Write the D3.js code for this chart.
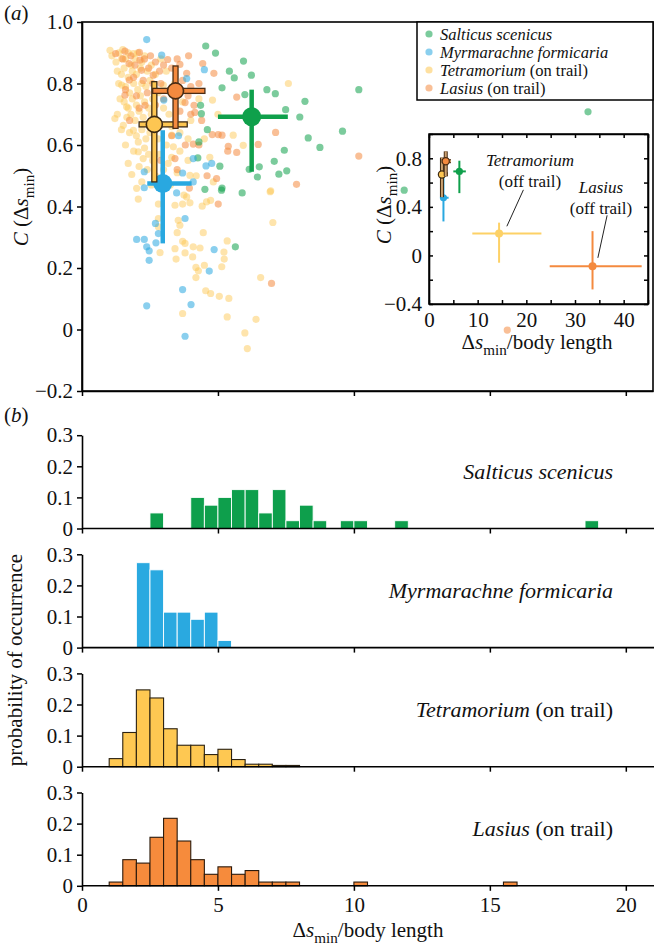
<!DOCTYPE html>
<html><head><meta charset="utf-8">
<script src="https://cdn.jsdelivr.net/npm/d3@7/dist/d3.min.js"></script>
<style>body{margin:0;background:#fff}svg{display:block}text{font-family:"Liberation Serif","Times New Roman",serif;fill:#111}</style>
</head><body><svg id="c" width="654" height="950"></svg>
<script>
// ---------- DATA ----------
const species = ["Salticus scenicus", "Myrmarachne formicaria", "Tetramorium", "Lasius"];
const legendSuffix = ["", "", " (on trail)", " (on trail)"];
const speciesColor = ["#0fa04b", "#29a8e0", "#fdc652", "#f48a3f"];
const speciesEdge = [null, null, "#3d2a14", "#4a2c14"];

// scatter points [Δs/body length, C]
const salticusPts = [[4.55,0.922],[4.91,0.899],[5.94,0.873],[5.42,0.840],[5.60,0.818],[6.23,0.827],[5.15,0.786],[5.99,0.764],[6.80,0.780],[7.11,0.767],[8.20,0.742],[7.49,0.715],[8.01,0.691],[8.32,0.623],[8.75,0.592],[7.44,0.583],[7.07,0.547],[7.53,0.516],[7.24,0.505],[6.52,0.529],[6.15,0.521],[6.45,0.496],[5.89,0.444],[5.15,0.460],[4.52,0.456],[4.39,0.702],[4.61,0.650],[4.26,0.558],[4.36,0.729],[5.07,0.531],[5.13,0.453],[5.64,0.269],[10.18,0.780],[9.58,0.645],[18.61,0.708],[11.85,0.453],[4.30,0.610]];
const myrmarachnePts = [[2.38,0.943],[2.93,0.892],[4.50,0.845],[3.85,0.816],[3.01,0.746],[4.77,0.540],[4.56,0.532],[4.09,0.556],[3.70,0.509],[2.29,0.513],[2.29,0.461],[3.48,0.444],[4.09,0.480],[2.70,0.345],[3.79,0.361],[2.01,0.293],[2.29,0.293],[2.38,0.269],[2.47,0.256],[2.47,0.225],[2.72,0.282],[2.81,0.312],[4.86,0.260],[4.68,0.190],[3.70,0.130],[4.01,0.081],[2.38,0.077],[3.79,-0.022],[3.55,0.63]];
const tetramoriumPts = [[1.03,0.908],[1.46,0.881],[1.89,0.897],[1.46,0.795],[1.64,0.724],[1.21,0.686],[1.52,0.664],[1.89,0.648],[2.07,0.610],[2.07,0.578],[2.25,0.556],[1.83,0.504],[2.01,0.459],[3.30,0.632],[3.17,0.540],[3.36,0.594],[3.97,0.501],[4.83,0.480],[5.93,0.599],[5.56,0.632],[7.59,0.800],[6.94,0.451],[4.80,0.746],[2.99,0.795],
[2.07,0.424],[2.81,0.408],[3.42,0.404],[3.70,0.408],[3.85,0.431],[3.97,0.412],[3.75,0.437],[4.42,0.401],[4.58,0.415],[4.73,0.420],[6.92,0.448],[7.02,0.348],[3.54,0.355],[3.60,0.339],[2.81,0.361],[3.50,0.315],[4.46,0.315],[2.81,0.334],[3.70,0.287],[3.79,0.280],[5.34,0.288],[2.87,0.250],[3.42,0.263],[3.79,0.249],[4.09,0.269],[4.34,0.265],[5.22,0.252],[4.07,0.236],[3.46,0.229],[5.23,0.229],[5.14,0.204],[4.50,0.209],[4.19,0.202],[4.28,0.191],[4.19,0.169],[6.57,0.169],[4.55,0.126],[4.73,0.117],[5.05,0.108],[5.40,0.101],[3.70,0.052],[5.34,0.041],[6.40,0.033],[5.99,-0.011],[6.08,-0.062],
[1.10,0.89],[1.25,0.87],[1.35,0.90],[1.50,0.91],[1.60,0.88],[1.70,0.90],[1.80,0.86],[1.95,0.88],[2.05,0.90],[2.20,0.87],[2.30,0.89],[1.30,0.84],[1.45,0.83],[1.55,0.85],[1.70,0.82],[1.85,0.84],[2.00,0.83],[2.15,0.85],[2.40,0.84],[2.55,0.86],[1.35,0.80],[1.60,0.79],[1.75,0.77],[1.90,0.80],[2.05,0.78],[2.20,0.80],[2.35,0.79],[2.50,0.81],[2.70,0.83],[1.40,0.75],[1.55,0.74],[1.70,0.72],[1.85,0.75],[2.00,0.73],[2.15,0.76],[2.30,0.74],[2.45,0.72],[2.60,0.75],[2.80,0.77],[1.30,0.70],[1.65,0.69],[1.80,0.70],[1.95,0.68],[2.10,0.71],[2.25,0.69],[2.40,0.67],[2.55,0.70],[3.00,0.72],[3.20,0.70],[1.45,0.65],[1.75,0.64],[2.00,0.63],[2.20,0.65],[2.35,0.62],[2.50,0.64],[2.80,0.62],[3.10,0.60],[1.60,0.60],[1.90,0.58],[2.30,0.59],[2.45,0.57],[2.60,0.55],[2.85,0.57],[3.30,0.56],[3.60,0.58],[1.70,0.54],[2.10,0.53],[2.40,0.52],[2.70,0.50],[3.00,0.52],[3.50,0.51],[3.90,0.55],[2.20,0.48],[2.55,0.47],[2.90,0.46],[3.25,0.47],[4.20,0.50],[4.50,0.62],[4.00,0.68],[3.70,0.74],[3.40,0.80],[3.10,0.84],[2.90,0.88],[4.30,0.75],[5.00,0.70],[4.70,0.56],[3.60,0.64],[3.30,0.66],[3.90,0.62]];
const lasiusPts = [[1.58,0.905],[2.11,0.901],[2.52,0.890],[3.15,0.878],[3.92,0.890],[1.73,0.865],[2.13,0.876],[2.19,0.843],[1.74,0.811],[1.58,0.762],[2.62,0.827],[3.60,0.862],[3.85,0.833],[3.79,0.738],[4.15,0.706],[4.12,0.729],[5.69,0.756],[4.85,0.833],[4.44,0.865],[5.15,0.632],[5.01,0.634],[5.69,0.576],[5.36,0.580],[6.48,0.602],[7.12,0.641],[4.95,0.491],[7.89,0.472],[3.42,0.556],[4.09,0.603],[2.32,0.729],[4.79,0.634],[5.38,0.596],[1.24,0.897],[5.01,0.408],[6.97,0.150],[10.18,0.564],[15.64,-0.002],
[1.50,0.88],[1.80,0.89],[1.95,0.86],[2.30,0.88],[2.45,0.85],[2.70,0.87],[2.85,0.84],[3.00,0.86],[3.30,0.85],[3.50,0.88],[1.90,0.82],[2.25,0.81],[2.60,0.80],[2.90,0.80],[3.70,0.81],[4.00,0.79],[1.60,0.78],[2.00,0.76],[2.40,0.77],[3.90,0.76],[4.30,0.80],[2.10,0.72],[2.70,0.73],[3.00,0.75],[3.60,0.71],[4.00,0.70],[4.40,0.68],[1.75,0.68],[2.50,0.66],[3.30,0.63],[3.80,0.60],[4.30,0.60],[2.90,0.55],[3.50,0.52],[4.60,0.50],[3.95,0.46]];
const scatterSets = [salticusPts, myrmarachnePts, tetramoriumPts, lasiusPts];

// on-trail means with error ranges
const meanX = [6.24, 2.97, 2.66, 3.44];
const meanY = [0.692, 0.475, 0.667, 0.776];
const errX = [[5.0,7.57],[2.4,4.03],[2.1,3.87],[2.6,4.52]];
const errY = [[0.513,0.78],[0.28,0.648],[0.48,0.806],[0.654,0.857]];
// off-trail means (inset)
const offNames = ["Tetramorium", "Lasius"];
const offColor = ["#fdd166", "#f48a3f"];
const offX = [14.4, 33.6];
const offY = [0.18, -0.09];
const offErrX = [[8.9,23.1],[24.8,43.7]];
const offErrY = [[-0.06,0.27],[-0.28,0.2]];

// histograms: bin start (width 0.5) and probability
const histBins = [
  [[2.5,0.05],[4.0,0.1],[4.5,0.075],[5.0,0.1],[5.5,0.125],[6.0,0.125],[6.5,0.05],[7.0,0.125],[7.5,0.025],[8.0,0.075],[8.5,0.025],[9.5,0.025],[10.0,0.025],[11.5,0.025],[18.5,0.025]],
  [[2.0,0.273],[2.5,0.25],[3.0,0.114],[3.5,0.114],[4.0,0.091],[4.5,0.114],[5.0,0.023]],
  [[1.0,0.026],[1.5,0.11],[2.0,0.247],[2.5,0.221],[3.0,0.122],[3.5,0.069],[4.0,0.069],[4.5,0.039],[5.0,0.056],[5.5,0.023],[6.0,0.008],[6.5,0.008],[7.0,0.004],[7.5,0.004]],
  [[1.0,0.012],[1.5,0.084],[2.0,0.073],[2.5,0.156],[3.0,0.217],[3.5,0.144],[4.0,0.084],[4.5,0.037],[5.0,0.061],[5.5,0.037],[6.0,0.049],[6.5,0.012],[7.0,0.012],[7.5,0.012],[10.0,0.012],[15.5,0.012]]
];
const histLabelItalic = ["Salticus scenicus", "Myrmarachne formicaria", "Tetramorium", "Lasius"];
const histLabelPlain = ["", "", " (on trail)", " (on trail)"];
const histFill = ["#0e9f4c", "#2aa9e0", "#fec852", "#f68b3c"];
const histStroke = ["#ffffff", "#ffffff", "#2b2111", "#2b1a0c"];
const xTicks = [0, 5, 10, 15, 20];
const yTicksA = [-0.2, 0, 0.2, 0.4, 0.6, 0.8, 1.0];
const yTicksHist = [0, 0.1, 0.2, 0.3];
const insetXTicks = [0, 10, 20, 30, 40];
const insetYTicks = [-0.4, 0, 0.4, 0.8];

// ---------- DRAW ----------
const svg = d3.select("#c");
const FS = 21;
const fmt = v => v === 0 ? "0" : (v < 0 ? "\u2212" + Math.abs(v).toFixed(1) : v.toFixed(1));

const x = d3.scaleLinear().domain([0, 21]).range([82, 653]);
const yA = d3.scaleLinear().domain([-0.2, 1.0]).range([391, 22]);

function styleAxis(g, size) {
  g.attr("font-family", null);
  g.selectAll("path,line").attr("stroke", "#000").attr("stroke-width", 1.5);
  g.selectAll("text").attr("font-size", size || FS).attr("fill", "#111").style("font-family", '"Liberation Serif",serif');
  g.select(".domain").attr("stroke-width", 1.6);
}

// panel (a) frame
svg.append("rect").attr("x", 82).attr("y", 22).attr("width", 571).attr("height", 369)
  .attr("fill", "none").attr("stroke", "#000").attr("stroke-width", 1.6);
const gAy = svg.append("g").attr("transform", "translate(82,0)")
  .call(d3.axisLeft(yA).tickValues(yTicksA).tickFormat(fmt).tickSize(5).tickPadding(4).tickSizeOuter(0));
styleAxis(gAy);
const gAx = svg.append("g").attr("transform", "translate(0,391)")
  .call(d3.axisBottom(x).tickValues(xTicks).tickFormat("").tickSize(5).tickSizeOuter(0));
styleAxis(gAx);

// scatter
const drawOrder = [2, 3, 0, 1];
drawOrder.forEach(i => {
  svg.append("g").selectAll("circle").data(scatterSets[i]).join("circle")
    .attr("cx", d => x(d[0])).attr("cy", d => yA(d[1])).attr("r", 3.6)
    .attr("fill", speciesColor[i]).attr("fill-opacity", i === 2 ? 0.48 : 0.55);
});

// mean markers with error bars
const meanOrder = [0, 1, 2, 3];
meanOrder.forEach(i => {
  const g = svg.append("g");
  const c = speciesColor[i], e = speciesEdge[i];
  if (!e) {
    g.append("line").attr("x1", x(errX[i][0])).attr("x2", x(errX[i][1])).attr("y1", yA(meanY[i])).attr("y2", yA(meanY[i]))
      .attr("stroke", c).attr("stroke-width", 4.5);
    g.append("line").attr("x1", x(meanX[i])).attr("x2", x(meanX[i])).attr("y1", yA(errY[i][0])).attr("y2", yA(errY[i][1]))
      .attr("stroke", c).attr("stroke-width", 4.5);
    g.append("circle").attr("cx", x(meanX[i])).attr("cy", yA(meanY[i])).attr("r", 9.5).attr("fill", c);
  } else {
    const w = 5;
    g.append("rect").attr("x", x(errX[i][0])).attr("width", x(errX[i][1]) - x(errX[i][0]))
      .attr("y", yA(meanY[i]) - w / 2).attr("height", w).attr("fill", c).attr("stroke", e).attr("stroke-width", 1.3);
    g.append("rect").attr("y", yA(errY[i][1])).attr("height", yA(errY[i][0]) - yA(errY[i][1]))
      .attr("x", x(meanX[i]) - w / 2).attr("width", w).attr("fill", c).attr("stroke", e).attr("stroke-width", 1.3);
    g.append("circle").attr("cx", x(meanX[i])).attr("cy", yA(meanY[i])).attr("r", 8).attr("fill", c)
      .attr("stroke", e).attr("stroke-width", 1.6);
  }
});

// legend
const lg = svg.append("g");
lg.append("rect").attr("x", 417).attr("y", 22).attr("width", 236).attr("height", 78)
  .attr("fill", "#fff").attr("stroke", "#000").attr("stroke-width", 1.5);
species.forEach((s, i) => {
  const yy = 34 + i * 18;
  lg.append("circle").attr("cx", 429).attr("cy", yy).attr("r", 3.6).attr("fill", speciesColor[i]).attr("fill-opacity", 0.55);
  const t = lg.append("text").attr("x", 440).attr("y", yy + 5.5).attr("font-size", 16.5);
  t.append("tspan").attr("font-style", "italic").text(s);
  if (legendSuffix[i]) t.append("tspan").text(legendSuffix[i]);
});

// inset
const xi = d3.scaleLinear().domain([0, 45]).range([429, 648]);
const yi = d3.scaleLinear().domain([-0.4, 1.0]).range([304, 134]);
svg.append("rect").attr("x", 429).attr("y", 134).attr("width", 219).attr("height", 170)
  .attr("fill", "#fff").attr("stroke", "#000").attr("stroke-width", 1.5);
const tk = 4;
const gi1 = svg.append("g").attr("transform", "translate(0,304)")
  .call(d3.axisBottom(xi).tickValues(d3.range(0, 46, 5)).tickFormat(d => insetXTicks.includes(d) ? d : "").tickSize(-tk).tickPadding(8).tickSizeOuter(0));
styleAxis(gi1);
const gi2 = svg.append("g").attr("transform", "translate(0,134)")
  .call(d3.axisTop(xi).tickValues(d3.range(0, 46, 5)).tickFormat("").tickSize(-tk).tickSizeOuter(0));
styleAxis(gi2);
const yiTickVals = [-0.4, -0.2, 0, 0.2, 0.4, 0.6, 0.8, 1.0];
const gi3 = svg.append("g").attr("transform", "translate(429,0)")
  .call(d3.axisLeft(yi).tickValues(yiTickVals).tickFormat(d => insetYTicks.some(v => Math.abs(v - d) < 1e-9) ? fmt(d) : "").tickSize(-tk).tickPadding(7).tickSizeOuter(0));
styleAxis(gi3);
const gi4 = svg.append("g").attr("transform", "translate(648,0)")
  .call(d3.axisRight(yi).tickValues(yiTickVals).tickFormat("").tickSize(-tk).tickSizeOuter(0));
styleAxis(gi4);

// inset marks: off-trail
offNames.forEach((n, i) => {
  const c = offColor[i];
  svg.append("line").attr("x1", xi(offErrX[i][0])).attr("x2", xi(offErrX[i][1])).attr("y1", yi(offY[i])).attr("y2", yi(offY[i]))
    .attr("stroke", c).attr("stroke-width", 2);
  svg.append("line").attr("x1", xi(offX[i])).attr("x2", xi(offX[i])).attr("y1", yi(offErrY[i][0])).attr("y2", yi(offErrY[i][1]))
    .attr("stroke", c).attr("stroke-width", 2);
  svg.append("circle").attr("cx", xi(offX[i])).attr("cy", yi(offY[i])).attr("r", 4).attr("fill", c);
});
// inset marks: on-trail
meanOrder.forEach(i => {
  const c = speciesColor[i], e = speciesEdge[i];
  if (e) {
    svg.append("line").attr("x1", xi(errX[i][0])).attr("x2", xi(errX[i][1])).attr("y1", yi(meanY[i])).attr("y2", yi(meanY[i])).attr("stroke", e).attr("stroke-width", 4);
    svg.append("line").attr("x1", xi(meanX[i])).attr("x2", xi(meanX[i])).attr("y1", yi(errY[i][0])).attr("y2", yi(errY[i][1])).attr("stroke", e).attr("stroke-width", 4);
  }
  svg.append("line").attr("x1", xi(errX[i][0])).attr("x2", xi(errX[i][1])).attr("y1", yi(meanY[i])).attr("y2", yi(meanY[i])).attr("stroke", e ? "#c9a070" : c).attr("stroke-width", 2);
  svg.append("line").attr("x1", xi(meanX[i])).attr("x2", xi(meanX[i])).attr("y1", yi(errY[i][0])).attr("y2", yi(errY[i][1])).attr("stroke", e ? "#c9a070" : c).attr("stroke-width", 2);
  svg.append("circle").attr("cx", xi(meanX[i])).attr("cy", yi(meanY[i])).attr("r", 3.6).attr("fill", c)
    .attr("stroke", e || "none").attr("stroke-width", 1.2);
});
// inset annotations
function annot(lines, cx, by) {
  lines.forEach((l, j) => {
    svg.append("text").attr("x", cx).attr("y", by + j * 21).attr("text-anchor", "middle").attr("font-size", 17)
      .attr("font-style", j === 0 ? "italic" : "normal").text(l);
  });
}
annot(["Tetramorium", "(off trail)"], 530, 166);
annot(["Lasius", "(off trail)"], 601, 193);
svg.append("line").attr("x1", xi(16.0)).attr("y1", yi(0.24)).attr("x2", xi(19.4)).attr("y2", yi(0.54)).attr("stroke", "#222").attr("stroke-width", 1);
svg.append("line").attr("x1", xi(34.7)).attr("y1", yi(-0.02)).attr("x2", xi(36.6)).attr("y2", yi(0.33)).attr("stroke", "#222").attr("stroke-width", 1);

// label helpers
function dsLabel(sel, size, tail) {
  sel.append("tspan").text("\u0394");
  sel.append("tspan").attr("font-style", "italic").text("s");
  sel.append("tspan").attr("font-size", size * 0.72).attr("dy", size * 0.28).text("min");
  sel.append("tspan").attr("dy", -size * 0.28).text(tail);
}
function cLabel(g, size) {
  const t = g.append("text").attr("text-anchor", "middle").attr("font-size", size);
  t.append("tspan").attr("font-style", "italic").text("C");
  t.append("tspan").text(" (\u0394");
  t.append("tspan").attr("font-style", "italic").text("s");
  t.append("tspan").attr("font-size", size * 0.72).attr("dy", size * 0.28).text("min");
  t.append("tspan").attr("dy", -size * 0.28).text(")");
}
cLabel(svg.append("g").attr("transform", "translate(28,207) rotate(-90)"), FS);
cLabel(svg.append("g").attr("transform", "translate(391,205) rotate(-90)"), FS);
dsLabel(svg.append("text").attr("x", 537).attr("y", 349).attr("text-anchor", "middle").attr("font-size", FS), FS, "/body length");

// panel labels
const pa = svg.append("text").attr("x", 4).attr("y", 20).attr("font-size", FS);
pa.append("tspan").text("("); pa.append("tspan").attr("font-style", "italic").text("a"); pa.append("tspan").text(")");
const pb = svg.append("text").attr("x", 4).attr("y", 422).attr("font-size", FS);
pb.append("tspan").text("("); pb.append("tspan").attr("font-style", "italic").text("b"); pb.append("tspan").text(")");

// ---------- histograms ----------
histBins.forEach((bins, i) => {
  const zero = 528.5 + i * 119.1;
  const yh = d3.scaleLinear().domain([0, 0.3]).range([zero, zero - 93.3]);
  const g = svg.append("g");
  g.selectAll("rect").data(bins).join("rect")
    .attr("x", d => x(d[0])).attr("width", d => x(d[0] + 0.5) - x(d[0]))
    .attr("y", d => yh(d[1])).attr("height", d => zero - yh(d[1]))
    .attr("fill", histFill[i]).attr("stroke", histStroke[i]).attr("stroke-width", i < 2 ? 0.9 : 1.1);
  const ax = svg.append("g").attr("transform", `translate(0,${zero})`)
    .call(d3.axisBottom(x).tickValues(xTicks).tickFormat(i === 3 ? (d => d) : "").tickSize(5).tickPadding(6).tickSizeOuter(0));
  styleAxis(ax);
  ax.select(".domain").attr("d", `M82,0H654`);
  const ay = svg.append("g").attr("transform", "translate(82,0)")
    .call(d3.axisLeft(yh).tickValues(yTicksHist).tickFormat(fmt).tickSize(5).tickPadding(4).tickSizeOuter(0));
  styleAxis(ay);
  const t = svg.append("text").attr("x", 613).attr("y", zero - 50).attr("text-anchor", "end").attr("font-size", 22);
  t.append("tspan").attr("font-style", "italic").text(histLabelItalic[i]);
  if (histLabelPlain[i]) t.append("tspan").text(histLabelPlain[i]);
});
svg.append("text").attr("transform", "translate(22,660) rotate(-90)").attr("text-anchor", "middle").attr("font-size", FS).text("probability of occurrence");
dsLabel(svg.append("text").attr("x", 368).attr("y", 937).attr("text-anchor", "middle").attr("font-size", FS), FS, "/body length");
</script></body></html>
